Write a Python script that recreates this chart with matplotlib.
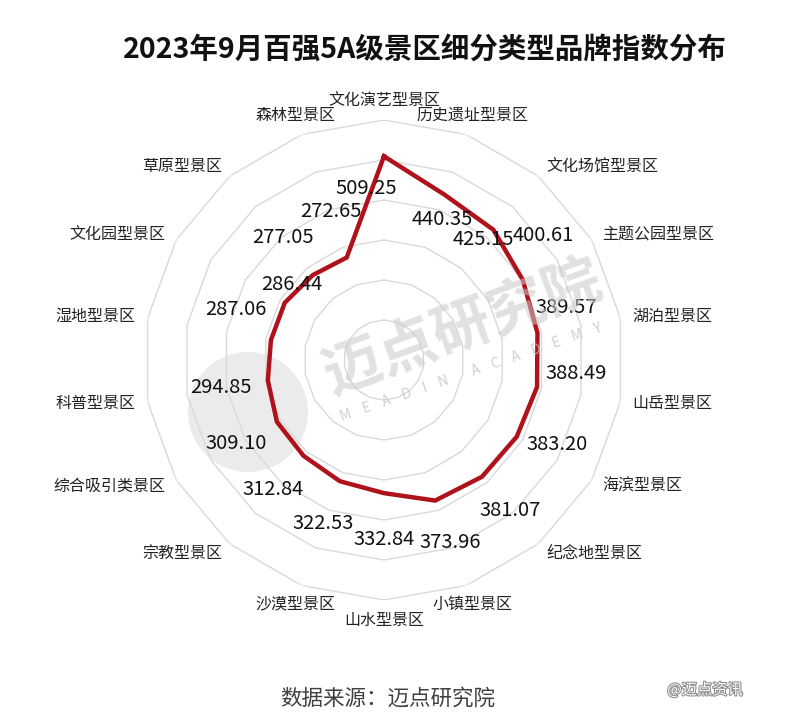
"""
2023年9月百强5A级景区细分类型品牌指数分布 - radar chart
"""

import numpy as np
import matplotlib
matplotlib.use('Agg')
import matplotlib.pyplot as plt
import matplotlib.patheffects as pe
from matplotlib.patches import Circle
from matplotlib.transforms import IdentityTransform

plt.rcParams['font.family'] = ['Noto Sans CJK SC', 'DejaVu Sans']

categories = ['文化演艺型景区', '历史遗址型景区', '文化场馆型景区', '主题公园型景区',
              '湖泊型景区', '山岳型景区', '海滨型景区', '纪念地型景区', '小镇型景区',
              '山水型景区', '沙漠型景区', '宗教型景区', '综合吸引类景区', '科普型景区',
              '湿地型景区', '文化园型景区', '草原型景区', '森林型景区']
values = [509.25, 440.35, 425.15, 400.61, 389.57, 388.49, 383.20, 381.07, 373.96,
          332.84, 322.53, 312.84, 309.10, 294.85, 287.06, 286.44, 277.05, 272.65]
rings = [100, 200, 300, 400, 500, 600]

# where the value labels sit (angle in degrees clockwise from top, radius in data units)
label_theta = [-6, 22.5, 39.5, 52, 74, 94, 116, 140, 160,
               180, 200.5, 220.5, 240.5, 260.5, 289, 309.5, 320.5, 340.5]
label_r = [432, 379, 389, 506, 474, 481, 482, 491, 485,
           448, 437, 427, 425, 413, 391, 298, 398, 395]

n = len(categories)
angles = np.arange(n) * 2 * np.pi / n
closed = np.append(angles, angles[0])

fig = plt.figure(figsize=(8, 7.16), dpi=100)
ax = fig.add_axes([0.18, 0.162, 0.6, 0.6704], projection='polar')
ax.set_theta_zero_location('N')
ax.set_theta_direction(-1)
ax.set_ylim(0, 600)
ax.grid(False)
ax.set_xticks([])
ax.set_yticks([])
ax.spines['polar'].set_visible(False)
ax.patch.set_alpha(0)

# polygon grid
for r in rings:
    ax.plot(closed, [r] * (n + 1), color='#d9d9d9', lw=1.0, zorder=1)

# watermark: logo disc + name
disc = Circle((248, 716 - 412), 60, transform=IdentityTransform(),
              facecolor='#dcdcdc', edgecolor='none', alpha=0.55, zorder=0)
fig.add_artist(disc)
fig.text(463 / 800, 1 - 328 / 716, '迈点研究院', fontsize=42, fontweight='bold',
         color='#c8c8c8', alpha=0.55, rotation=20, ha='center', va='center', zorder=2)
fig.text(471 / 800, 1 - 372 / 716, 'M    E    A    D    I    N        A    C    A    D    E    M    Y',
         fontsize=10, color='#c4c4c4', alpha=0.8, rotation=19, ha='center', va='center', zorder=2)

# data line
ax.plot(closed, np.append(values, values[0]), color='#b0121b', lw=3.2,
        solid_joinstyle='miter', zorder=5)

# value labels
for v, t, r in zip(values, label_theta, label_r):
    ax.text(np.deg2rad(t), r, f'{v:.2f}', fontsize=14.5, ha='center', va='center',
            color='#111111', zorder=6)

# category labels
for a, c in zip(angles, categories):
    s = np.sin(a)
    if abs(s) < 0.4:
        ax.text(a, 650, c, fontsize=11.5, ha='center', va='center', color='#222222')
    else:
        ax.text(a, 630, c, fontsize=11.5, ha='left' if s > 0 else 'right',
                va='center', color='#222222')

fig.text(0.531, 1 - 50 / 716, '2023年9月百强5A级景区细分类型品牌指数分布',
         fontsize=20.5, fontweight='bold', ha='center', va='center', color='#111111')
fig.text(388 / 800, 1 - 699 / 716, '数据来源：迈点研究院', fontsize=15.5,
         ha='center', va='center', color='#404040')
fig.text(705 / 800, 1 - 690 / 716, '@迈点资讯', fontsize=11, ha='center', va='center',
         color='white', path_effects=[pe.withStroke(linewidth=1.5, foreground='#8c8c8c')])

fig.savefig('out.png', dpi=100)
